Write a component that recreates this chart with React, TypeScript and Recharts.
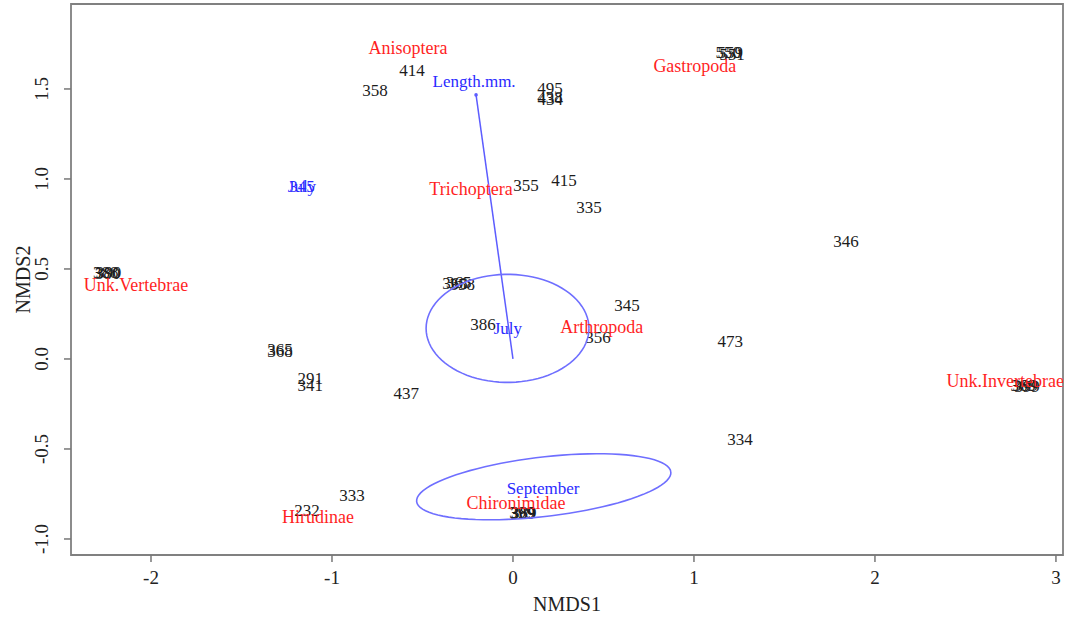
import {
  ScatterChart,
  Scatter,
  XAxis,
  YAxis,
  ReferenceArea,
  ReferenceLine,
} from "recharts";

// sample scores (site labels), [id, NMDS1, NMDS2]
const sites: [string, number, number][] = [
  ["358", -0.762, 1.494],
  ["414", -0.558, 1.605],
  ["495", 0.204, 1.5],
  ["438", 0.204, 1.45],
  ["434", 0.206, 1.44],
  ["550", 1.19, 1.7],
  ["559", 1.2, 1.7],
  ["551", 1.21, 1.69],
  ["355", 0.072, 0.961],
  ["415", 0.282, 0.994],
  ["335", 0.42, 0.844],
  ["346", 1.84, 0.65],
  ["368", -0.32, 0.42],
  ["365", -0.3, 0.425],
  ["358", -0.28, 0.415],
  ["388", -2.25, 0.48],
  ["380", -2.24, 0.475],
  ["390", -2.235, 0.48],
  ["386", -0.166, 0.19],
  ["345", 0.63, 0.295],
  ["356", 0.47, 0.12],
  ["473", 1.2, 0.095],
  ["368", -1.287, 0.044],
  ["365", -1.287, 0.05],
  ["291", -1.12, -0.11],
  ["341", -1.12, -0.145],
  ["437", -0.59, -0.19],
  ["334", 1.254, -0.445],
  ["369", 2.82, -0.15],
  ["389", 2.83, -0.15],
  ["399", 2.84, -0.155],
  ["333", -0.89, -0.756],
  ["232", -1.138, -0.844],
  ["399", 0.05, -0.855],
  ["369", 0.055, -0.86],
  ["389", 0.06, -0.855],
];

// species scores
const species: [string, number, number][] = [
  ["Anisoptera", -0.58, 1.73],
  ["Gastropoda", 1.005, 1.63],
  ["Trichoptera", -0.232, 0.944],
  ["Unk.Vertebrae", -2.083, 0.41],
  ["Arthropoda", 0.49, 0.178],
  ["Unk.Invertebrae", 2.72, -0.12],
  ["Hirudinae", -1.077, -0.878],
  ["Chironimidae", 0.017, -0.8],
];

// month centroids / env vector label
const blueLabels: [string, number, number][] = [
  ["345", -1.166, 0.956],
  ["July", -1.166, 0.956],
  ["July", -0.028, 0.172],
  ["September", 0.166, -0.717],
  ["Length.mm.", -0.215, 1.54],
];

// envfit arrow end
const lengthVector = [-0.204, 1.467];

// ordiellipse: [centre x, centre y, semi-axis a, semi-axis b, angle deg]
const ellipseJuly = [-0.03, 0.17, 0.45, 0.3, 0];
const ellipseSeptember = [0.17, -0.71, 0.707, 0.165, 6.7];

const xTicks = [-2, -1, 0, 1, 2, 3];
const yTicks = [-1, -0.5, 0, 0.5, 1, 1.5];
const xDomain = [-2.442, 3.039];
const yDomain = [-1.089, 1.972];

const FONT = "'Liberation Serif', 'Times New Roman', serif";

function toRows(list: [string, number, number][]) {
  return list.map(([label, x, y]) => ({ label, x, y }));
}

function ellipsePath(e: number[]) {
  const [cx, cy, a, b, deg] = e;
  const t = (deg * Math.PI) / 180;
  const pts = [];
  for (let i = 0; i <= 90; i++) {
    const u = (i / 90) * Math.PI * 2;
    const ex = a * Math.cos(u);
    const ey = b * Math.sin(u);
    pts.push({
      x: cx + ex * Math.cos(t) - ey * Math.sin(t),
      y: cy + ex * Math.sin(t) + ey * Math.cos(t),
    });
  }
  return pts;
}

const textShape =
  (fill: string, size: number) =>
  (props: any) => {
    const { cx, cy, payload } = props;
    return (
      <text
        x={cx}
        y={cy}
        textAnchor="middle"
        dominantBaseline="central"
        fill={fill}
        fontSize={size}
        fontFamily={FONT}
      >
        {payload.label}
      </text>
    );
  };

const XTick = (props: any) => {
  const { x, y, payload } = props;
  return (
    <text
      x={x}
      y={y}
      dy={15}
      textAnchor="middle"
      dominantBaseline="central"
      fill="#222"
      fontSize={19}
      fontFamily={FONT}
    >
      {payload.value}
    </text>
  );
};

const YTick = (props: any) => {
  const { x, y, payload } = props;
  const tx = x - 22;
  return (
    <text
      x={tx}
      y={y}
      transform={`rotate(-90, ${tx}, ${y})`}
      textAnchor="middle"
      dominantBaseline="central"
      fill="#222"
      fontSize={19}
      fontFamily={FONT}
    >
      {Number(payload.value).toFixed(1)}
    </text>
  );
};

const noDot = () => <g />;

export default function App() {
  return (
    <div style={{ width: 1066, height: 617, background: "#fff" }}>
      <style>{"body{margin:0}"}</style>
      <ScatterChart
        width={1066}
        height={617}
        margin={{ top: 4, right: 3, bottom: 0, left: 0 }}
      >
        <XAxis
          type="number"
          dataKey="x"
          domain={xDomain}
          ticks={xTicks}
          allowDataOverflow
          height={62}
          tickSize={7}
          tickMargin={0}
          axisLine={false}
          tickLine={{ stroke: "#777", strokeWidth: 1.5 }}
          tick={<XTick />}
          label={{
            content: (p: any) => {
              const vb = p.viewBox;
              return (
                <text
                  x={vb.x + vb.width / 2}
                  y={604}
                  textAnchor="middle"
                  dominantBaseline="central"
                  fill="#222"
                  fontSize={20}
                  fontFamily={FONT}
                >
                  NMDS1
                </text>
              );
            },
          }}
        />
        <YAxis
          type="number"
          dataKey="y"
          domain={yDomain}
          ticks={yTicks}
          allowDataOverflow
          width={71}
          tickSize={7}
          tickMargin={0}
          axisLine={false}
          tickLine={{ stroke: "#777", strokeWidth: 1.5 }}
          tick={<YTick />}
          label={{
            content: (p: any) => {
              const vb = p.viewBox;
              const cy = vb.y + vb.height / 2;
              return (
                <text
                  x={23}
                  y={cy}
                  transform={`rotate(-90, 23, ${cy})`}
                  textAnchor="middle"
                  dominantBaseline="central"
                  fill="#222"
                  fontSize={20}
                  fontFamily={FONT}
                >
                  NMDS2
                </text>
              );
            },
          }}
        />
        <ReferenceArea
          x1={xDomain[0]}
          x2={xDomain[1]}
          y1={yDomain[0]}
          y2={yDomain[1]}
          fill="none"
          stroke="#808080"
          strokeWidth={1.8}
          ifOverflow="visible"
        />
        <Scatter
          data={toRows(sites)}
          shape={textShape("#1c1c1c", 17)}
          isAnimationActive={false}
        />
        <Scatter
          data={ellipsePath(ellipseJuly)}
          line={{ stroke: "#6f6fff", strokeWidth: 1.6 }}
          lineType="joint"
          shape={noDot}
          isAnimationActive={false}
        />
        <Scatter
          data={ellipsePath(ellipseSeptember)}
          line={{ stroke: "#6f6fff", strokeWidth: 1.6 }}
          lineType="joint"
          shape={noDot}
          isAnimationActive={false}
        />
        <ReferenceLine
          segment={[
            { x: 0, y: 0 },
            { x: lengthVector[0], y: lengthVector[1] },
          ]}
          stroke="#5c5cff"
          strokeWidth={1.5}
          ifOverflow="visible"
        />
        <Scatter
          data={[{ x: lengthVector[0], y: lengthVector[1] }]}
          shape={(p: any) => (
            <circle cx={p.cx} cy={p.cy} r={1.8} fill="#5c5cff" />
          )}
          isAnimationActive={false}
        />
        <Scatter
          data={toRows(species)}
          shape={textShape("#ff1f1f", 18)}
          isAnimationActive={false}
        />
        <Scatter
          data={toRows(blueLabels)}
          shape={textShape("#2a2aff", 17)}
          isAnimationActive={false}
        />
      </ScatterChart>
    </div>
  );
}
